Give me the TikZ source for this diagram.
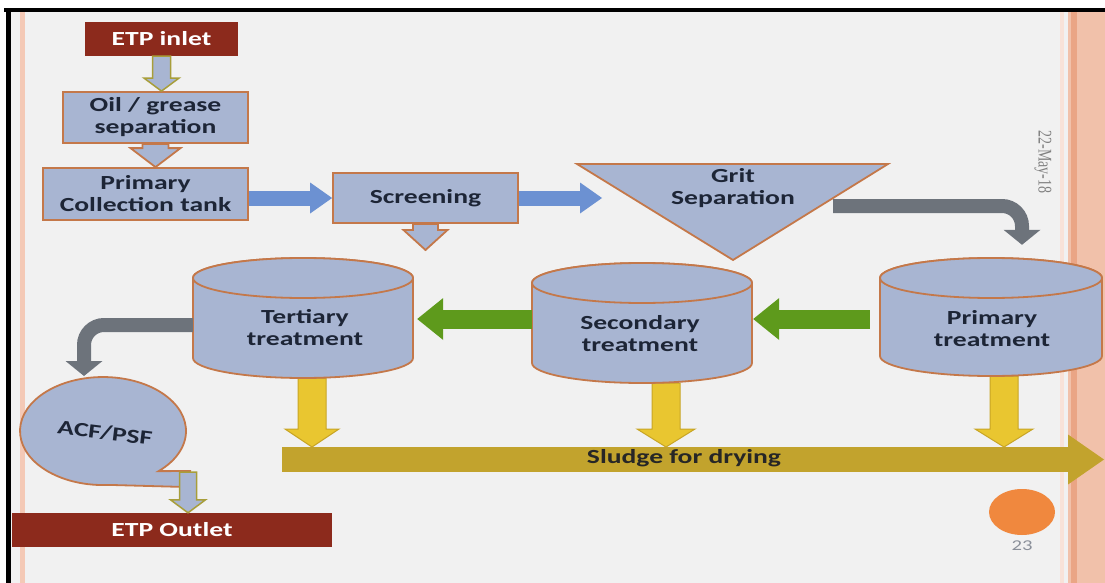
\documentclass[tikz,border=0pt]{standalone}
\usepackage{fontspec}
\setmainfont{Carlito}[FakeStretch=1.38]
\newfontfamily\datefont{Liberation Serif}
\usetikzlibrary{arrows.meta,calc,shapes.geometric}

\definecolor{bg}{HTML}{F1F1F1}
\definecolor{boxfill}{HTML}{A8B5D2}
\definecolor{boxline}{HTML}{C4784A}
\definecolor{etpred}{HTML}{8C2A1C}
\definecolor{ink}{HTML}{1D2536}
\definecolor{flowblue}{HTML}{6C91D2}
\definecolor{flowgreen}{HTML}{5E9A1C}
\definecolor{flowgray}{HTML}{6D737B}
\definecolor{sludgeyel}{HTML}{E9C630}
\definecolor{sludgeline}{HTML}{C8A526}
\definecolor{sludgebar}{HTML}{C2A32D}
\definecolor{oliveline}{HTML}{A89E3A}
\definecolor{dotorange}{HTML}{F0883E}
\definecolor{stripe}{HTML}{F4C9B6}
\definecolor{bandpink}{HTML}{F1C1AA}
\definecolor{bandline}{HTML}{EAA585}
\definecolor{bandpale}{HTML}{F8E2D8}
\definecolor{pagegray}{HTML}{8A8F99}

\newcommand\lblfont{\fontsize{20}{22}\selectfont\bfseries}

% vertical block arrow: style, from, to, shaft half width, head half width, head length
\newcommand\vblock[6]{%
  \path[#1] let \p1=(#2), \p2=(#3) in
    (\x1-#4pt,\y1) -- (\x1-#4pt,\y2+#6pt) -- (\x1-#5pt,\y2+#6pt) -- (\x1,\y2)
    -- (\x1+#5pt,\y2+#6pt) -- (\x1+#4pt,\y2+#6pt) -- (\x1+#4pt,\y1) -- cycle;}

% tank: name, centre x, lid centre y, half width, body height
\newcommand\tank[5]{%
  \filldraw[tankbody] (#2-#4,#3) -- (#2-#4,#3+#5)
    arc[start angle=180,end angle=0,x radius=#4,y radius=20] -- (#2+#4,#3)
    arc[start angle=0,end angle=-180,x radius=#4,y radius=20] -- cycle;
  \filldraw[tankbody] (#2,#3) ellipse[x radius=#4,y radius=20];
  \node[minimum width=2*#4,minimum height=#5+40,inner sep=0pt] (#1) at (#2,#3+#5/2) {};}

\begin{document}
\begin{tikzpicture}[x=1pt,y=-1pt,
  box/.style={draw=boxline,fill=boxfill,line width=1.8pt,text=ink,font=\lblfont,align=center,inner sep=0pt},
  lbl/.style={text=ink,font=\lblfont,align=center,inner sep=0pt},
  etp/.style={fill=etpred,text=white,font=\lblfont,inner sep=0pt},
  tankbody/.style={draw=boxline,fill=boxfill,line width=1.8pt},
  hollow/.style={draw=oliveline,fill=boxfill,line width=1.5pt,line join=miter},
  notch/.style={draw=boxline,fill=boxfill,line width=1.8pt,line join=miter},
  drop/.style={draw=sludgeline,fill=sludgeyel,line width=1pt},
  bluearr/.style={draw=flowblue,line width=15pt,-{Triangle[width=31pt,length=22pt,line width=0pt]}},
  greenarr/.style={draw=flowgreen,line width=19pt,-{Triangle[width=42pt,length=26pt,line width=0pt]}},
  grayarr/.style={draw=flowgray,line width=14pt,rounded corners=20pt,-{Triangle[width=37pt,length=15pt,line width=0pt]}},
  sludgearr/.style={draw=sludgebar,line width=25pt,-{Triangle[width=50pt,length=36pt,line width=0pt]}},
]
\useasboundingbox (0,0) rectangle (1105,583);

% slide frame
\fill[white] (0,0) rectangle (1105,583);
\fill[bg] (8,10) rectangle (1105,583);
\fill[stripe] (20,12) rectangle (25,583);
\fill[bandpale] (1060,12) rectangle (1064,583);
\fill[bandpink] (1068,12) rectangle (1105,583);
\fill[bandline] (1071,12) rectangle (1077,583);
\fill[black] (4,8) rectangle (1105,12.5);
\fill[black] (6,8) rectangle (11,583);

% upper chain
\node[etp,minimum width=153,minimum height=34] (inlet) at (161.5,39) {ETP inlet};
\node[box,minimum width=185,minimum height=51] (oil) at (155.5,117.5) {Oil / grease\\separation};
\node[box,minimum width=205,minimum height=52] (pct) at (145.5,194) {Primary\\Collection tank};
\node[box,minimum width=185,minimum height=50] (scr) at (425.5,198) {Screening};

\coordinate (gtl) at (577,164);
\coordinate (gtr) at (888,164);
\coordinate (gbt) at (733,260);
\filldraw[tankbody] (gtl) -- (gtr) -- (gbt) -- cycle;
\node[lbl] (grit) at (733,188.5) {Grit\\Separation};

\vblock{hollow}{inlet.south}{oil.north}{9}{17.5}{13}
\vblock{notch}{oil.south}{pct.north}{13}{25}{19}
\coordinate (scrd) at (425.5,250);
\vblock{notch}{scr.south}{scrd}{12.5}{22}{20}

\draw[bluearr] (pct.east |- scr.west) -- (scr.west);
\coordinate (gin) at (602,198);
\draw[bluearr] (scr.east) -- (gin);

% sludge line
\coordinate (sls) at (282,459.5);
\coordinate (sle) at (1104,459.5);
\coordinate (slt) at (0,447);
\draw[sludgearr] (sls) -- (sle);
\node[lbl,text=black!85] (sludge) at (684,458) {Sludge for drying};

% treatment tanks
\vblock{drop}{$(303,378)+(9,0)$}{slt}{14}{27}{18}
\vblock{drop}{$(642,383)+(24,0)$}{slt}{14}{29}{18}
\vblock{drop}{$(991,376)+(13,0)$}{slt}{14}{29}{18}

\tank{tert}{303}{278}{110}{80}
\tank{sec}{642}{283}{110}{80}
\tank{prim}{991}{278}{111}{78}
\node[lbl] (tertl) at ($(tert)+(2,10)$) {Tertiary\\treatment};
\node[lbl] (secl) at ($(sec)+(-2,11)$) {Secondary\\treatment};
\node[lbl] (priml) at ($(prim)+(1,12)$) {Primary\\treatment};

\coordinate (gs) at (833,206);
\draw[grayarr] (gs) -| ($(prim.north)+(31,-13)$);
\draw[greenarr] ($(prim.west)+(-10,2)$) -- ($(sec.east)+(1,-4)$);
\draw[greenarr] ($(sec.west)+(0,-4)$) -- ($(tert.east)+(4,1)$);

% polishing filter and outlet
\coordinate (acftop) at (84,376);
\draw[grayarr] ($(tert.west)+(0,7)$) -| (acftop);
\filldraw[tankbody] (108.8,484.9) arc[start angle=86,end angle=408,x radius=83,y radius=54]
  -- (190,471) -- (185,487) -- cycle;
\node[lbl,rotate=-7] (acf) at (105,433) {ACF/PSF};
\node[etp,minimum width=320,minimum height=34] (outlet) at (172,530) {ETP Outlet};
\coordinate (acft) at (188,472);
\vblock{hollow}{acft}{outlet.north}{8.5}{17.5}{13}

% slide footer
\node[fill=dotorange,ellipse,minimum width=66,minimum height=46,inner sep=0pt] (dot) at (1022,512) {};
\node[text=pagegray,font=\fontsize{15}{15}\selectfont,inner sep=0pt] (page) at (1022,546) {23};
\node[text=gray,inner sep=0pt] (date) at (1043,162)
  {\rotatebox{-90}{\scalebox{1}[1.38]{\datefont\fontsize{14}{14}\selectfont 22-May-18}}};
\end{tikzpicture}
\end{document}
